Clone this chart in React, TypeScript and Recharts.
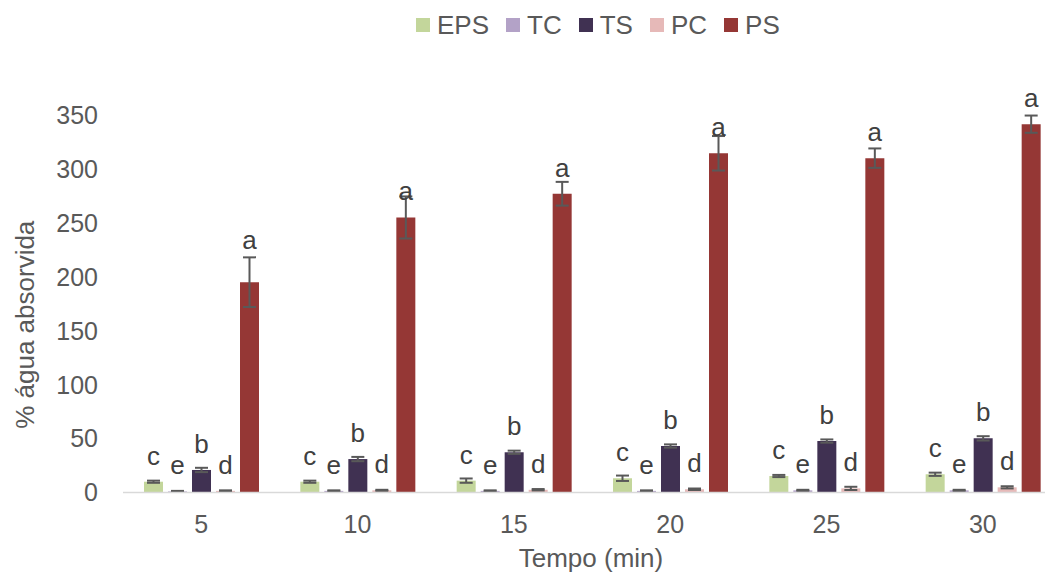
import React from 'react';
import { BarChart, Bar, XAxis, YAxis, ErrorBar, LabelList, Label } from 'recharts';

const categories = ['5', '10', '15', '20', '25', '30'];

const eps = [10, 10, 11, 13.2, 15.3, 16.9];
const epsErr = [1, 1, 2, 2.5, 1, 1.5];
const epsLetters = ['c', 'c', 'c', 'c', 'c', 'c'];

const tc = [1, 1.5, 1.5, 1.5, 2, 2];
const tcErr = [0.5, 0.5, 0.5, 0.5, 0.5, 0.5];
const tcLetters = ['e', 'e', 'e', 'e', 'e', 'e'];

const ts = [20.9, 31, 37.3, 43.1, 47.7, 50.2];
const tsErr = [2, 2, 1.5, 1.5, 1.5, 2];
const tsLetters = ['b', 'b', 'b', 'b', 'b', 'b'];

const pc = [1.5, 2, 2.5, 3, 3.8, 4.8];
const pcErr = [0.5, 0.5, 0.7, 0.7, 1.5, 1];
const pcLetters = ['d', 'd', 'd', 'd', 'd', 'd'];

const ps = [195, 255, 277, 314.5, 310, 341.5];
const psErr = [23, 19.5, 11, 16, 9, 8];
const psLetters = ['a', 'a', 'a', 'a', 'a', 'a'];

const yTicks = [0, 50, 100, 150, 200, 250, 300, 350];

const series = [
  { key: 'EPS', values: eps, errors: epsErr, letters: epsLetters, color: '#c3d69b' },
  { key: 'TC', values: tc, errors: tcErr, letters: tcLetters, color: '#b3a2c7' },
  { key: 'TS', values: ts, errors: tsErr, letters: tsLetters, color: '#403152' },
  { key: 'PC', values: pc, errors: pcErr, letters: pcLetters, color: '#e6b9b8' },
  { key: 'PS', values: ps, errors: psErr, letters: psLetters, color: '#953735' },
];

const data = categories.map((c, i) => {
  const row: any = { cat: c };
  series.forEach((s) => {
    row[s.key] = s.values[i];
    row[s.key + '_err'] = s.errors[i];
  });
  return row;
});

const FONT = '"Liberation Sans", Arial, sans-serif';
const TEXT = '#595959';

const makeLetter = (letters: string[], values: number[], errors: number[]) => (p: any) => {
  const x = Number(p.x);
  const y = Number(p.y);
  const width = Number(p.width);
  const height = Number(p.height);
  const index = p.index;
  const v = values[index];
  const e = errors[index];
  const pxPer = v ? height / v : 0;
  const errTop = y - e * pxPer;
  const big = e > 0.1 * v && e > 10;
  const baseline = big ? errTop - 8 : y - 17;
  return (
    <text
      key={'l' + index}
      x={x + width / 2}
      y={baseline}
      textAnchor="middle"
      fontSize={26}
      fill="#404040"
      fontFamily={FONT}
    >
      {letters[index]}
    </text>
  );
};

const YTitle = (props: any) => {
  const vb = props.viewBox || {};
  const cx = 25;
  const cy = (vb.y ?? 115) + (vb.height ?? 377.5) / 2 + 21;
  return (
    <text
      x={cx}
      y={cy}
      transform={`rotate(-90 ${cx} ${cy})`}
      textAnchor="middle"
      dominantBaseline="central"
      fontSize={26}
      fill={TEXT}
      fontFamily={FONT}
    >
      % água absorvida
    </text>
  );
};

const XTitle = () => {
  return (
    <text x={591} y={567} textAnchor="middle" fontSize={26} fill={TEXT} fontFamily={FONT}>
      Tempo (min)
    </text>
  );
};

export default function App() {
  return (
    <div
      style={{
        position: 'absolute',
        left: 0,
        top: 0,
        width: 1045,
        height: 574,
        overflow: 'hidden',
        background: '#ffffff',
        fontFamily: FONT,
      }}
    >
      <div
        style={{
          position: 'absolute',
          left: 416,
          top: 9,
          height: 32,
          display: 'flex',
          justifyContent: 'flex-start',
          alignItems: 'center',
          whiteSpace: 'nowrap',
        }}
      >
        {series.map((s, i) => (
          <div
            key={s.key}
            style={{ display: 'flex', alignItems: 'center', marginRight: i < series.length - 1 ? 17 : 0 }}
          >
            <div style={{ width: 14, height: 14, background: s.color, marginRight: 7 }} />
            <span style={{ fontSize: 26, color: TEXT, lineHeight: '32px' }}>{s.key}</span>
          </div>
        ))}
      </div>
      <BarChart
        width={1045}
        height={574}
        data={data}
        margin={{ top: 115, right: -16, bottom: 0, left: 0 }}
        barGap={5}
        barSize={19}
        style={{ position: 'absolute', left: 0, top: 0 }}
      >
        <XAxis
          dataKey="cat"
          tickLine={false}
          tickSize={0}
          tickMargin={23}
          axisLine={{ stroke: '#d9d9d9', strokeWidth: 1.5 }}
          tick={{ fontSize: 25, fill: TEXT, fontFamily: FONT }}
          height={81.5}
          interval={0}
        >
          <Label content={<XTitle />} />
        </XAxis>
        <YAxis
          domain={[0, 350]}
          ticks={yTicks}
          axisLine={false}
          tickLine={false}
          tickSize={0}
          tickMargin={25}
          width={123}
          tick={{ fontSize: 25, fill: TEXT, fontFamily: FONT }}
        >
          <Label content={<YTitle />} />
        </YAxis>
        {series.map((s) => (
          <Bar key={s.key} dataKey={s.key} fill={s.color} isAnimationActive={false}>
            <ErrorBar
              dataKey={s.key + '_err'}
              width={6.5}
              stroke="#595959"
              strokeWidth={2}
              direction="y"
              isAnimationActive={false}
            />
            <LabelList dataKey={s.key} content={makeLetter(s.letters, s.values, s.errors)} />
          </Bar>
        ))}
      </BarChart>
    </div>
  );
}
